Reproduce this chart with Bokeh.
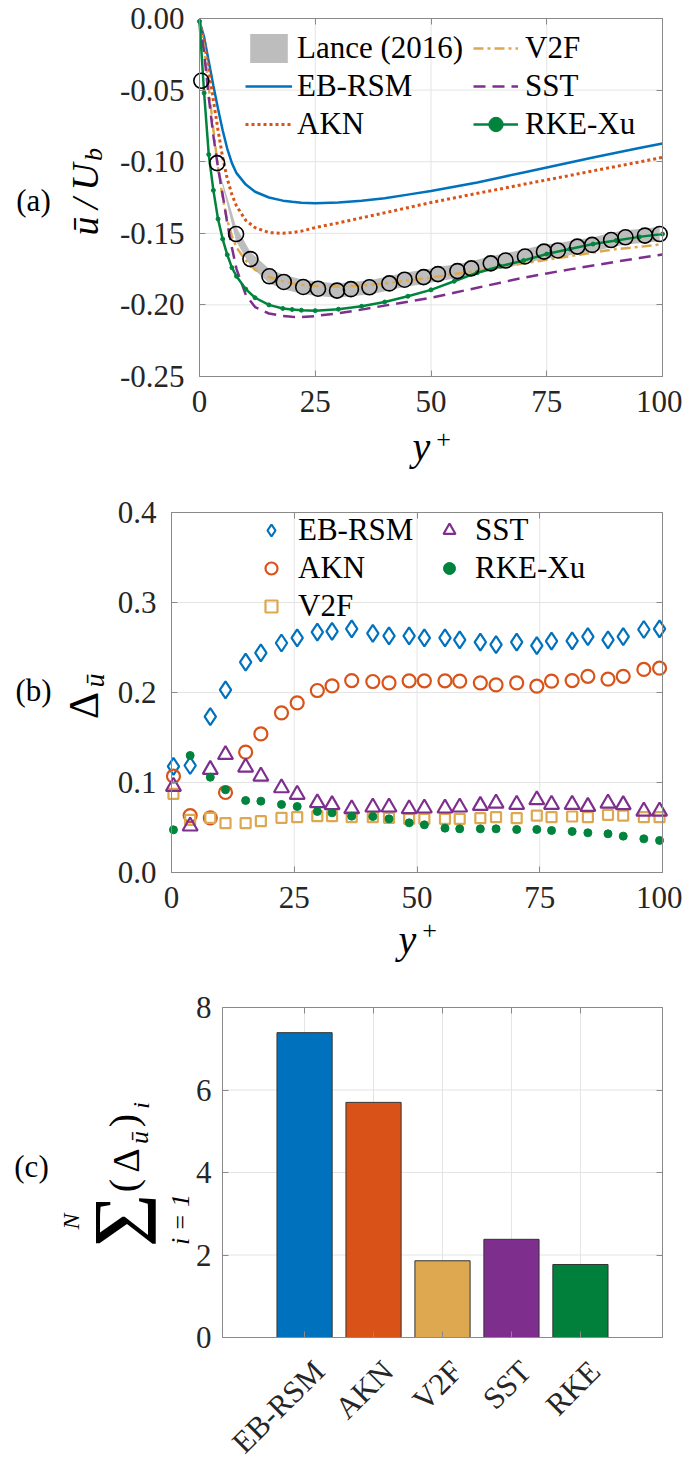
from math import pi
from bokeh.plotting import figure
from bokeh.layouts import column
from bokeh.models import (Legend, LegendItem, Label, FixedTicker, NumeralTickFormatter,
                          LinearAxis, Range1d)
from bokeh.embed import file_html
from bokeh.resources import INLINE

FONT = "Liberation Serif"
TXT = "#262626"
AXC = "#8a8a8a"
GRID = "#e4e4e4"
FS = "31px"

C_BLUE = "#0072BD"
C_ORANGE = "#D95319"
C_YELLOW = "#DDA84F"
C_PURPLE = "#7E2F8E"
C_GREEN = "#00843D"
C_GRAY = "#bdbdbd"

# ---------------- panel (a) data ----------------
yplus_curve = [0, 1, 2, 3, 4, 5, 6, 7, 8, 10, 12, 15, 18, 20, 22, 25, 30, 35, 40, 45,
               50, 55, 60, 65, 70, 75, 80, 85, 90, 95, 100]
u_ebrsm = [-0.002, -0.013, -0.030, -0.047, -0.063, -0.078, -0.091, -0.101, -0.108, -0.116,
           -0.121, -0.125, -0.1272, -0.128, -0.1287, -0.129, -0.1285, -0.1273, -0.1255, -0.123,
           -0.1205, -0.1175, -0.1145, -0.111, -0.1075, -0.104, -0.1005, -0.097, -0.0937, -0.0905, -0.0873]
u_akn = [-0.002, -0.016, -0.036, -0.057, -0.078, -0.097, -0.112, -0.123, -0.131, -0.141,
         -0.146, -0.1495, -0.150, -0.1495, -0.1485, -0.146, -0.1427, -0.1392, -0.1357, -0.1321,
         -0.1285, -0.1253, -0.1221, -0.119, -0.1158, -0.1127, -0.1096, -0.1064, -0.1033, -0.1002, -0.097]
u_v2f = [-0.002, -0.020, -0.048, -0.078, -0.104, -0.125, -0.141, -0.152, -0.160, -0.169,
         -0.1755, -0.1805, -0.1835, -0.185, -0.186, -0.1868, -0.1872, -0.1865, -0.185, -0.183,
         -0.181, -0.1785, -0.176, -0.1735, -0.171, -0.1685, -0.166, -0.1635, -0.161, -0.1595, -0.1575]
u_sst = [-0.002, -0.024, -0.055, -0.082, -0.104, -0.123, -0.143, -0.160, -0.175, -0.193,
         -0.2015, -0.206, -0.2078, -0.2083, -0.2085, -0.2078, -0.2058, -0.2033, -0.2005, -0.1978,
         -0.195, -0.1915, -0.188, -0.1845, -0.181, -0.178, -0.1752, -0.1725, -0.1698, -0.1673, -0.1648]
u_rke = [-0.002, -0.052, -0.095, -0.120, -0.140, -0.154, -0.165, -0.174, -0.180, -0.189,
         -0.195, -0.2000, -0.2025, -0.2032, -0.2037, -0.2040, -0.2030, -0.2010, -0.1980, -0.1940,
         -0.1895, -0.1835, -0.1775, -0.1730, -0.1690, -0.1645, -0.1610, -0.1575, -0.1550, -0.1525, -0.1505]

yplus_pts = [0.4, 3.8, 7.9, 11.0, 15.1, 18.2, 22.4, 25.6, 29.7, 32.7, 36.7, 41.0, 44.3, 48.4,
             51.5, 55.7, 58.7, 62.9, 66.1, 70.3, 74.4, 77.4, 81.6, 84.8, 88.9, 92.0, 96.2, 99.4]
u_lance = [-0.0435, -0.101, -0.1505, -0.168, -0.180, -0.184, -0.1875, -0.1887, -0.190, -0.189,
           -0.1877, -0.185, -0.1824, -0.1806, -0.1785, -0.1764, -0.1745, -0.171, -0.169, -0.1662,
           -0.1628, -0.162, -0.1593, -0.1581, -0.1547, -0.1528, -0.1516, -0.1505]
lance_err = [0.0, 0.0, 0.005, 0.005, 0.005, 0.005, 0.005, 0.005, 0.005, 0.005, 0.005, 0.005,
             0.005, 0.005, 0.005, 0.005, 0.005, 0.005, 0.005, 0.005, 0.005, 0.005, 0.005, 0.005,
             0.005, 0.005, 0.005, 0.005]

# ---------------- panel (b) data ----------------
d_ebrsm = [0.1178, 0.1189, 0.1733, 0.203, 0.2337, 0.244, 0.255, 0.2608, 0.267, 0.268, 0.2707,
           0.2656, 0.263, 0.263, 0.2608, 0.2608, 0.2585, 0.256, 0.2533, 0.256, 0.2522, 0.257,
           0.2574, 0.2622, 0.2585, 0.2622, 0.270, 0.2707]
d_akn = [0.107, 0.0633, 0.0607, 0.0889, 0.1337, 0.154, 0.1774, 0.1885, 0.2022, 0.2074, 0.2133,
         0.2122, 0.2107, 0.213, 0.213, 0.213, 0.2126, 0.2107, 0.2085, 0.2107, 0.207, 0.2126,
         0.2133, 0.218, 0.2148, 0.218, 0.2256, 0.227]
d_v2f = [0.0874, 0.0585, 0.0607, 0.0548, 0.0548, 0.057, 0.0607, 0.0615, 0.0626, 0.0626, 0.0615,
         0.0615, 0.0607, 0.0596, 0.0596, 0.0596, 0.0596, 0.0604, 0.0615, 0.0604, 0.0633, 0.0615,
         0.0622, 0.0615, 0.0641, 0.0633, 0.0615, 0.0615]
d_sst = [0.0956, 0.0515, 0.1144, 0.131, 0.117, 0.107, 0.094, 0.0867, 0.0774, 0.0752, 0.0707,
         0.0726, 0.0726, 0.0707, 0.0715, 0.0715, 0.0726, 0.0744, 0.077, 0.0756, 0.0807, 0.0756,
         0.0756, 0.0733, 0.077, 0.0752, 0.0681, 0.0681]
d_rke = [0.0474, 0.130, 0.1059, 0.0919, 0.080, 0.0793, 0.0756, 0.0733, 0.0678, 0.0663, 0.0626,
         0.0622, 0.0596, 0.0552, 0.053, 0.0493, 0.0485, 0.0485, 0.0485, 0.0478, 0.0478, 0.0467,
         0.0456, 0.0441, 0.043, 0.0404, 0.0374, 0.0356]

# ---------------- panel (c) data ----------------
models = ["EB-RSM", "AKN", "V2F", "SST", "RKE"]
sum_delta = [7.39, 5.70, 1.86, 2.38, 1.77]
bar_colors = [C_BLUE, C_ORANGE, C_YELLOW, C_PURPLE, "#00803A"]

x_ticks = [0, 25, 50, 75, 100]
ya_ticks = [-0.25, -0.20, -0.15, -0.10, -0.05, 0.0]
yb_ticks = [0.0, 0.1, 0.2, 0.3, 0.4]
yc_ticks = [0, 2, 4, 6, 8]

# ---------------- layout (pixels) ----------------
W = 682


def panel_fig(H, box, xlim, ylim):
    bl, br, bt, bb = box
    kx = (br - bl) / (xlim[1] - xlim[0])
    x0 = xlim[0] - bl / kx
    x1 = x0 + W / kx
    ky = (bb - bt) / (ylim[1] - ylim[0])
    ytop = ylim[1] + bt / ky
    ybot = ytop - H / ky
    p = figure(width=W, height=H, x_range=Range1d(x0, x1), y_range=Range1d(ybot, ytop),
               output_backend="svg", toolbar_location=None, title=None,
               x_axis_location=None, y_axis_location=None, min_border=0)
    p.min_border_left = 0
    p.min_border_right = 0
    p.min_border_top = 0
    p.min_border_bottom = 0
    p.outline_line_color = None
    p.background_fill_color = "white"
    p.border_fill_color = "white"
    p.grid.visible = False
    return p


def style_axis(ax, show_labels=True):
    ax.major_label_text_font = FONT
    ax.major_label_text_font_size = FS
    ax.major_label_text_color = TXT if show_labels else None
    ax.axis_line_color = AXC
    ax.axis_line_width = 1
    ax.major_tick_line_color = AXC
    ax.major_tick_in = 6
    ax.major_tick_out = 0
    ax.minor_tick_line_color = None


def add_axes(p, xlim, ylim, xticks, yticks, yfmt, show_x_labels=True):
    # grid lines, limited to the axes box
    gxs = [t for t in xticks if xlim[0] < t < xlim[1]]
    gys = [t for t in yticks if ylim[0] < t < ylim[1]]
    p.segment(x0=gxs, y0=[ylim[0]] * len(gxs), x1=gxs, y1=[ylim[1]] * len(gxs),
              line_color=GRID, line_width=1, level="underlay")
    p.segment(x0=[xlim[0]] * len(gys), y0=gys, x1=[xlim[1]] * len(gys), y1=gys,
              line_color=GRID, line_width=1, level="underlay")
    left = LinearAxis(fixed_location=xlim[0], bounds=tuple(ylim),
                      ticker=FixedTicker(ticks=yticks), formatter=yfmt)
    style_axis(left)
    left.major_label_standoff = 15
    bottom = LinearAxis(fixed_location=ylim[0], bounds=tuple(xlim),
                        ticker=FixedTicker(ticks=xticks))
    style_axis(bottom, show_x_labels)
    bottom.major_label_standoff = 14
    top = LinearAxis(fixed_location=ylim[1], bounds=tuple(xlim),
                     ticker=FixedTicker(ticks=xticks))
    style_axis(top, False)
    right = LinearAxis(fixed_location=xlim[1], bounds=tuple(ylim),
                       ticker=FixedTicker(ticks=yticks))
    style_axis(right, False)
    p.add_layout(left, "left")
    p.add_layout(bottom, "below")
    p.add_layout(top, "above")
    p.add_layout(right, "right")
    return left, bottom


def lab(p, H, px, py, text, size, italic=False, angle=0.0, baseline="middle", align="center"):
    p.add_layout(Label(x=px, y=H - py, x_units="screen", y_units="screen", text=text,
                       text_font=FONT, text_font_size=size,
                       text_font_style="italic" if italic else "normal",
                       text_color="#000000", angle=angle, text_align=align,
                       text_baseline=baseline))


leg_kw = dict(label_text_font=FONT, label_text_font_size=FS, label_text_color="#000000",
              glyph_height=36, label_height=36, spacing=2, padding=0, margin=0,
              background_fill_alpha=0, border_line_alpha=0)

# ================= panel (a) =================
HA = 480
BOXA = (199, 662, 18, 376)
XL = (0, 100)
YLA = (-0.25, 0.0)
pa = panel_fig(HA, BOXA, XL, YLA)
add_axes(pa, XL, YLA, x_ticks, ya_ticks, NumeralTickFormatter(format="0.00"))

lo = [u - e for u, e in zip(u_lance, lance_err)]
hi = [u + e for u, e in zip(u_lance, lance_err)]
r_band = pa.varea(x=yplus_pts, y1=lo, y2=hi, fill_color=C_GRAY, fill_alpha=1.0)
r_eb = pa.line(yplus_curve, u_ebrsm, line_color=C_BLUE, line_width=2.5)
r_akn = pa.line(yplus_curve, u_akn, line_color=C_ORANGE, line_width=3, line_dash="3 3")
r_v2f = pa.line(yplus_curve, u_v2f, line_color=C_YELLOW, line_width=2.5, line_dash="10 4 3 4")
r_sst = pa.line(yplus_curve, u_sst, line_color=C_PURPLE, line_width=2.5, line_dash="12 7")
r_rke = pa.line(yplus_curve, u_rke, line_color=C_GREEN, line_width=2.5)
r_rke_m = pa.scatter(yplus_curve, u_rke, marker="circle", size=4, fill_color=C_GREEN,
                     line_color=C_GREEN)
pa.scatter(yplus_pts, u_lance, marker="circle", size=15, fill_alpha=0,
           line_color="black", line_width=1.6)

la1 = Legend(items=[LegendItem(label="Lance (2016)", renderers=[r_band]),
                    LegendItem(label="EB-RSM", renderers=[r_eb]),
                    LegendItem(label="AKN", renderers=[r_akn])],
             location=(245, HA - 142), glyph_width=47, label_standoff=5, **leg_kw)
la2 = Legend(items=[LegendItem(label="V2F", renderers=[r_v2f]),
                    LegendItem(label="SST", renderers=[r_sst]),
                    LegendItem(label="RKE-Xu", renderers=[r_rke, r_rke_m])],
             location=(473, HA - 142), glyph_width=45, label_standoff=7, **leg_kw)
pa.add_layout(la1)
pa.add_layout(la2)

lab(pa, HA, 33, 200, "(a)", FS)
lab(pa, HA, 84, 199, "ū\u2009/\u2009U", "38px", italic=True, angle=pi / 2)
lab(pa, HA, 93, 154, "b", "26px", italic=True, angle=pi / 2)
lab(pa, HA, 421, 446, "y", "40px", italic=True)
lab(pa, HA, 443, 439, "+", "26px")

# ================= panel (b) =================
HB = 495
BOXB = (171, 662, 32, 392)
YLB = (0.0, 0.4)
pb = panel_fig(HB, BOXB, XL, YLB)
add_axes(pb, XL, YLB, x_ticks, yb_ticks, NumeralTickFormatter(format="0.0"))

s_eb = pb.scatter(yplus_pts, d_ebrsm, marker="diamond", size=17, fill_alpha=0,
                  line_color=C_BLUE, line_width=2.2)
s_akn = pb.scatter(yplus_pts, d_akn, marker="circle", size=13, fill_alpha=0,
                   line_color=C_ORANGE, line_width=2.2)
s_v2f = pb.scatter(yplus_pts, d_v2f, marker="square", size=10, fill_alpha=0,
                   line_color=C_YELLOW, line_width=2.2)
s_sst = pb.scatter(yplus_pts, d_sst, marker="triangle", size=15, fill_alpha=0,
                   line_color=C_PURPLE, line_width=2.2)
s_rke = pb.scatter(yplus_pts, d_rke, marker="circle", size=8, fill_color=C_GREEN,
                   line_color=C_GREEN)

lb1 = Legend(items=[LegendItem(label="EB-RSM", renderers=[s_eb]),
                    LegendItem(label="AKN", renderers=[s_akn]),
                    LegendItem(label="V2F", renderers=[s_v2f])],
             location=(256, HB - 144), glyph_width=30, label_standoff=12, **leg_kw)
lb2 = Legend(items=[LegendItem(label="SST", renderers=[s_sst]),
                    LegendItem(label="RKE-Xu", renderers=[s_rke])],
             location=(434, HB - 106), glyph_width=30, label_standoff=11, **leg_kw)
pb.add_layout(lb1)
pb.add_layout(lb2)

lab(pb, HB, 33, 210, "(b)", FS)
lab(pb, HB, 83, 225, "Δ", "42px", angle=pi / 2)
lab(pb, HB, 94, 200, "ū", "28px", italic=True, angle=pi / 2)
lab(pb, HB, 407, 459, "y", "40px", italic=True)
lab(pb, HB, 429, 450, "+", "26px")

# ================= panel (c) =================
HC = 487
BOXC = (222, 662, 32, 362)
XLC = (-0.19, 6.19)
YLC = (0, 8)
xpos = [i + 1 for i in range(len(models))]
pc = panel_fig(HC, BOXC, XLC, YLC)
left_c, bottom_c = add_axes(pc, XLC, YLC, xpos, yc_ticks, NumeralTickFormatter(format="0"),
                            show_x_labels=False)
left_c.major_label_standoff = 11

pc.vbar(x=xpos, top=sum_delta, width=0.8, fill_color=bar_colors,
        line_color="#333333", line_width=1)

# category names, rotated like the reference tick labels
for xv, name in zip(xpos, models):
    pc.add_layout(Label(x=xv, y=HC - 378, x_units="data", y_units="screen", x_offset=2,
                        text=name, text_font=FONT, text_font_size="31px", text_color=TXT,
                        angle=pi / 4, text_align="right", text_baseline="top"))

lab(pc, HC, 31, 191, "(c)", FS)
lab(pc, HC, 124, 245, "Σ", "92px", angle=pi / 2)
lab(pc, HC, 70, 246, "N", "24px", italic=True, angle=pi / 2)
lab(pc, HC, 180, 244, "i = 1", "26px", italic=True, angle=pi / 2)
lab(pc, HC, 123, 210, "(", "40px", angle=pi / 2)
lab(pc, HC, 125, 185, "Δ", "38px", angle=pi / 2)
lab(pc, HC, 139, 162, "ū", "26px", italic=True, angle=pi / 2)
lab(pc, HC, 123, 145, ")", "40px", angle=pi / 2)
lab(pc, HC, 140, 130, "i", "24px", italic=True, angle=pi / 2)

layout = column(pa, pb, pc, spacing=0)
open("out.html", "w").write(file_html(layout, INLINE))
